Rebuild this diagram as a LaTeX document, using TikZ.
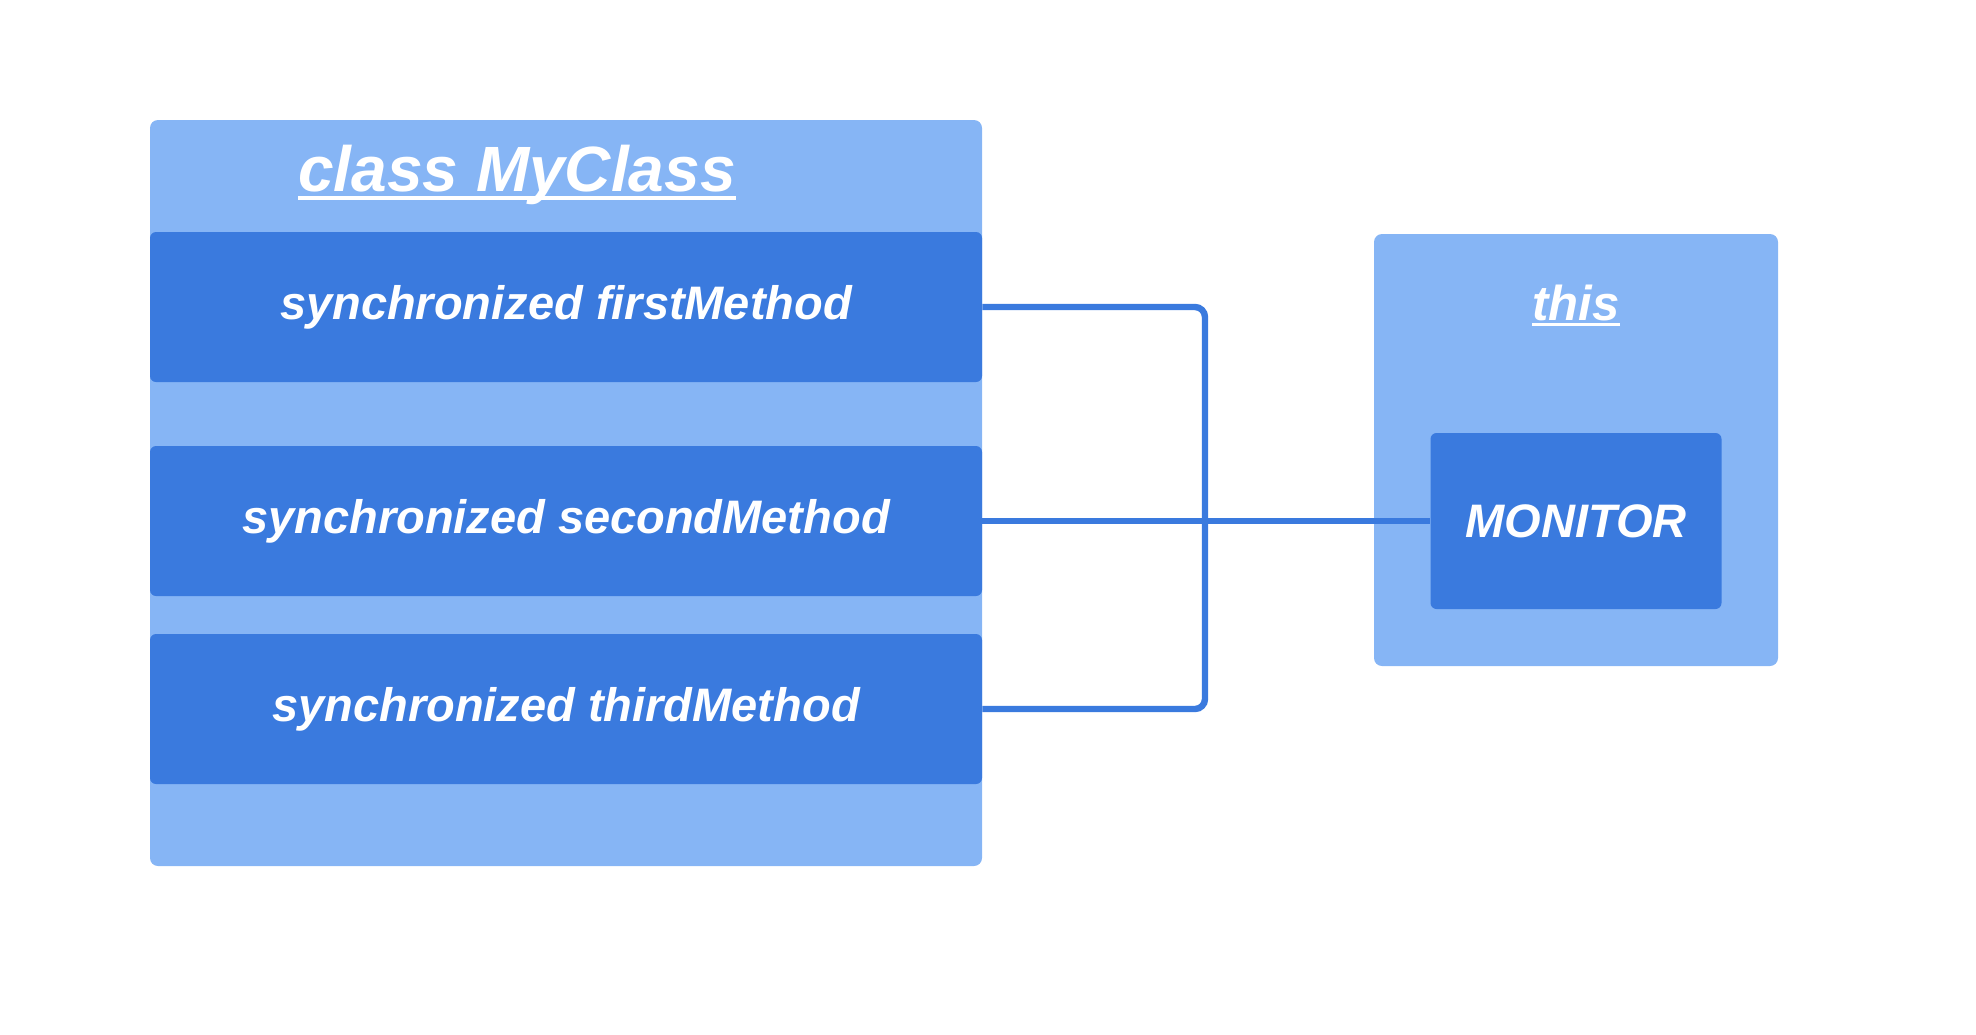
\documentclass[tikz,border=0pt]{standalone}
\usepackage{fontspec}
\setmainfont{Liberation Sans}
\usepackage{tikz}
\definecolor{boxlight}{RGB}{134,181,245}
\definecolor{boxdark}{RGB}{58,122,222}
\newcommand{\ulbar}[2]{\leavevmode\vtop{\hbox{\raisebox{0pt}[\height][0pt]{#2}}\kern#1\hrule height 1.8pt}}
\tikzset{
  lightbox/.style={fill=boxlight, rounded corners=4pt, inner sep=0pt},
  darkbox/.style={fill=boxdark, rounded corners=3pt, inner sep=0pt,
    text=white, font={\fontsize{23.5pt}{26pt}\selectfont\bfseries\itshape}},
  link/.style={draw=boxdark, line width=3.2pt}}

\begin{document}
\begin{tikzpicture}[x=0.5pt,y=-0.5pt]
\tikzstyle{every node}+=[inner sep=0pt]
\useasboundingbox (0,0) rectangle (1976,1034);
\node [lightbox, minimum width=416pt, minimum height=373pt] (cls) at (566,493) {};
\node [anchor=base, text=white, font={\fontsize{32pt}{36pt}\selectfont\bfseries\itshape}] (title) at (517,191) {\ulbar{2.6pt}{class MyClass}};
\node [darkbox, minimum width=416pt, minimum height=75pt] (m1) at (566,307) {synchronized firstMethod};
\node [darkbox, minimum width=416pt, minimum height=75pt] (m2) at (566,521) {synchronized secondMethod};
\node [darkbox, minimum width=416pt, minimum height=75pt] (m3) at (566,709) {synchronized thirdMethod};
\node [lightbox, minimum width=202pt, minimum height=216pt] (obj) at (1576,450) {};
\node [anchor=base, text=white, font={\fontsize{24.5pt}{28pt}\selectfont\bfseries\itshape}] (self) at (1576,320) {\ulbar{1.4pt}{this}};
\node [darkbox, minimum width=145.5pt, minimum height=88pt] (mon) at (1576,521) {MONITOR};
\coordinate (jn) at (1205,521);
\draw [link, rounded corners=5pt] (m1.east) -| (jn) |- (m3.east);
\draw [link] (m2.east) -- (mon.west);
\end{tikzpicture}
\end{document}
